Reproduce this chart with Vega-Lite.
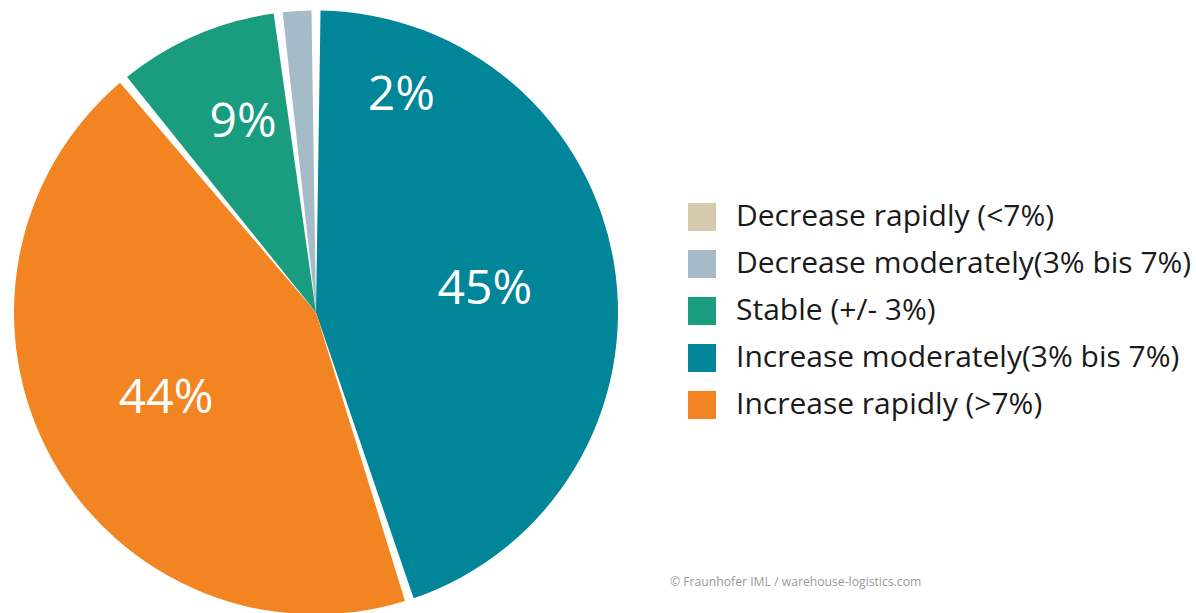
{
  "$schema": "https://vega.github.io/schema/vega-lite/v6.json",
  "width": 632,
  "height": 603,
  "padding": {"left": 0, "top": 10, "right": 0, "bottom": 0},
  "autosize": {"type": "pad"},
  "background": "white",
  "config": {"view": {"stroke": null}, "font": "Open Sans"},
  "title": {
    "text": "© Fraunhofer IML / warehouse-logistics.com",
    "orient": "bottom",
    "anchor": "start",
    "frame": "group",
    "dx": 670,
    "dy": -39,
    "offset": 0,
    "fontSize": 12.2,
    "fontWeight": "normal",
    "color": "#9a9a9a",
    "font": "Open Sans"
  },
  "data": {
    "values": [
      {"category": "Increase moderately(3% bis 7%)", "share": 0.45},
      {"category": "Increase rapidly (>7%)", "share": 0.44},
      {"category": "Stable (+/- 3%)", "share": 0.09},
      {"category": "Decrease moderately(3% bis 7%)", "share": 0.02},
      {"category": "Decrease rapidly (<7%)", "share": 0.0}
    ]
  },
  "encoding": {
    "theta": {"field": "share", "type": "quantitative", "stack": true},
    "order": {"field": "share", "type": "quantitative", "sort": "descending"}
  },
  "layer": [
    {
      "mark": {"type": "arc", "outerRadius": 302, "padAngle": 0.03},
      "encoding": {
        "color": {
          "field": "category",
          "type": "nominal",
          "scale": {
            "domain": ["Decrease rapidly (<7%)", "Decrease moderately(3% bis 7%)", "Stable (+/- 3%)", "Increase moderately(3% bis 7%)", "Increase rapidly (>7%)"],
            "range": ["#d5c9ae", "#a6bbc8", "#1a9d7e", "#018599", "#f28522"]
          },
          "legend": {
            "orient": "none",
            "legendX": 687,
            "legendY": 191,
            "title": null,
            "symbolType": "square",
            "symbolSize": 784,
            "symbolStrokeWidth": 0,
            "labelFontSize": 30,
            "labelColor": "#1a1a1a",
            "labelFont": "Open Sans",
            "labelLimit": 700,
            "rowPadding": 17,
            "labelOffset": 19,
            "padding": 0
          }
        }
      }
    },
    {
      "mark": {"type": "text", "radius": 171, "dy": 4, "fontSize": 48, "color": "white", "align": "center", "baseline": "middle"},
      "encoding": {
        "text": {"condition": {"test": "datum.share >= 0.3", "field": "share", "type": "quantitative", "format": ".0%"}, "value": ""}
      }
    },
    {
      "mark": {"type": "text", "radius": 209, "dx": 10, "dy": 2, "fontSize": 48, "color": "white", "align": "center", "baseline": "middle"},
      "encoding": {
        "text": {"condition": {"test": "datum.share > 0.05 && datum.share < 0.3", "field": "share", "type": "quantitative", "format": ".0%"}, "value": ""}
      }
    },
    {
      "mark": {"type": "text", "radius": 232, "dx": 100, "dy": 15, "fontSize": 48, "color": "white", "align": "center", "baseline": "middle"},
      "encoding": {
        "text": {"condition": {"test": "datum.share > 0 && datum.share <= 0.05", "field": "share", "type": "quantitative", "format": ".0%"}, "value": ""}
      }
    }
  ]
}
